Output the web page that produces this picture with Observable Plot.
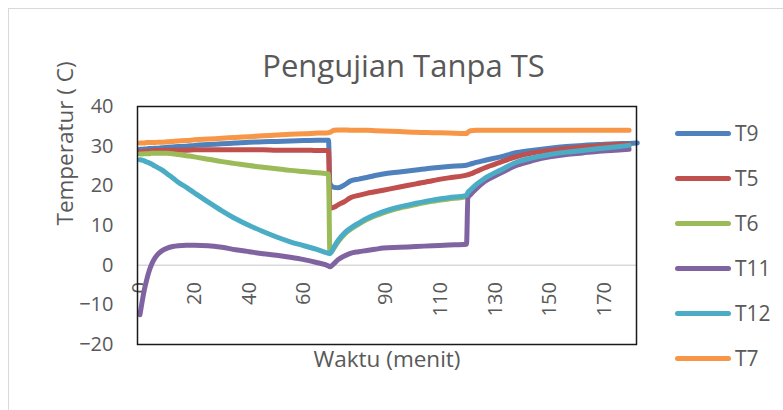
<!DOCTYPE html>
<html><head><meta charset="utf-8">
<script src="https://cdn.jsdelivr.net/npm/d3@7"></script>
<script src="https://cdn.jsdelivr.net/npm/@observablehq/plot@0.6"></script>
<style>
body{margin:0;background:#fff;overflow:hidden;font-family:"Open Sans",sans-serif;}
#wrap{position:relative;width:783px;height:410px;overflow:hidden;background:#fff;}
#border{position:absolute;left:8px;top:8px;width:820px;height:440px;border:1.5px solid #d9d9d9;box-sizing:border-box;}
#chart{position:absolute;left:0;top:0;}
#legend{position:absolute;left:675px;top:0;}
.item{position:absolute;left:0;height:24px;display:flex;align-items:center;white-space:nowrap;}
.swatch{width:56px;height:5px;border-radius:3px;margin-right:4px;}
.lab{font-size:21px;line-height:24px;color:#595959;}
</style></head>
<body><div id="wrap"><div id="border"></div><div id="chart"></div><div id="legend"></div></div>
<script>
const title = "Pengujian Tanpa TS";
const xTitle = "Waktu (menit)";
const yTitle = "Temperatur ( C)";
const seriesNames = ["T9", "T5", "T6", "T11", "T12", "T7"];
const seriesColors = ["#4F81BD", "#C0504D", "#9BBB59", "#8064A2", "#4BACC6", "#F79646"];
const xTicks = [0, 20, 40, 60, 90, 110, 130, 150, 170];
const yTicks = [-20, -10, 0, 10, 20, 30, 40];

const minutes = [0, 0.8, 1.6, 2.5, 3.3, 4.2, 5.2, 6.5, 8, 10, 12, 14, 17, 20,
  25, 30, 35, 40, 45, 50, 55, 60, 65, 69, 69.5,
  71, 72.5, 75, 77, 80, 83, 86, 89, 95, 101, 107, 113, 119.5, 120, 121, 123, 126,
  132, 138, 144, 150, 156, 162, 168, 174, 179, 182];

const T9 = [29.2, 29.2, 29.3, 29.3, 29.4, 29.4, 29.5, 29.5, 29.6, 29.7, 29.8, 29.9, 30.0, 30.2,
  30.4, 30.6, 30.8, 31.0, 31.1, 31.2, 31.3, 31.4, 31.5, 31.5, 20.5,
  19.6, 19.5, 20.3, 21.2, 21.7, 22.1, 22.6, 23.0, 23.5, 24.0, 24.5, 24.9, 25.2, 25.3, 25.5, 25.9, 26.4,
  27.3, 28.4, 29.0, 29.5, 29.9, 30.2, 30.4, 30.6, 30.7, 30.8];
const T5 = [28.6, 28.6, 28.7, 28.7, 28.8, 28.8, 28.9, 28.9, 28.9, 29.0, 29.0, 29.0, 29.0, 29.1,
  29.1, 29.1, 29.1, 29.1, 29.1, 29.0, 29.0, 29.0, 28.9, 28.9, 14.3,
  14.6, 15.2, 16.1, 17.0, 17.6, 18.1, 18.5, 18.9, 19.7, 20.5, 21.3, 22.0, 22.7, 22.8, 23.0, 23.6, 24.5,
  26.0, 27.4, 28.3, 28.9, 29.4, 29.8, 30.1, 30.4, 30.5, null];
const T6 = [28.0, 28.0, 28.1, 28.1, 28.1, 28.2, 28.2, 28.2, 28.2, 28.2, 28.1, 27.9, 27.6, 27.3,
  26.7, 26.1, 25.6, 25.1, 24.7, 24.3, 23.9, 23.6, 23.3, 23.0, 3.0,
  4.3, 5.9, 7.9, 9.0, 10.3, 11.5, 12.4, 13.2, 14.4, 15.3, 16.1, 16.7, 17.3, 17.9, 18.6, 20.0, 21.5,
  23.7, 25.7, 26.8, 27.6, 28.2, 28.6, 29.1, 29.5, 29.9, null];
const T11 = [-12.5, -9.2, -6.2, -3.6, -1.6, 0.1, 1.5, 2.7, 3.6, 4.3, 4.7, 4.9, 5.0, 5.0,
  4.9, 4.5, 3.9, 3.4, 2.9, 2.5, 2.0, 1.4, 0.6, -0.2, -0.4,
  0.4, 1.4, 2.4, 3.0, 3.4, 3.7, 4.0, 4.3, 4.5, 4.7, 4.9, 5.1, 5.3, 17.0, 17.8, 19.2, 21.0,
  23.2, 25.2, 26.4, 27.3, 27.9, 28.3, 28.7, 29.0, 29.2, null];
const T12 = [26.6, 26.5, 26.3, 26.0, 25.8, 25.5, 25.1, 24.6, 24.0, 23.0, 22.0, 20.9, 19.6, 18.2,
  15.9, 13.7, 11.7, 10.0, 8.5, 7.1, 5.9, 4.9, 3.9, 3.0, 2.9,
  4.6, 6.2, 8.2, 9.3, 10.6, 11.8, 12.7, 13.5, 14.7, 15.6, 16.4, 17.0, 17.6, 18.3, 19.0, 20.3, 21.8,
  24.0, 26.0, 27.1, 27.9, 28.5, 28.9, 29.4, 29.8, 30.2, null];
const T7 = [30.8, 30.8, 30.8, 30.9, 30.9, 30.9, 30.9, 31.0, 31.0, 31.1, 31.2, 31.3, 31.4, 31.6,
  31.8, 32.0, 32.2, 32.4, 32.6, 32.8, 33.0, 33.1, 33.3, 33.4, 33.5,
  34.0, 34.1, 34.1, 34.0, 34.0, 34.0, 33.9, 33.8, 33.7, 33.5, 33.4, 33.3, 33.2, 33.5, 33.9, 34.0, 34.0,
  34.0, 34.0, 34.0, 34.0, 34.0, 34.0, 34.0, 34.0, 34.0, null];

const seriesValues = [T9, T5, T6, T11, T12, T7];

const lineMarks = seriesNames.map((name, i) =>
  Plot.line(minutes.map((t, j) => ({t, v: seriesValues[i][j], series: name})), {
    x: "t", y: "v", stroke: seriesColors[i], strokeWidth: 5, curve: "monotone-x",
    strokeLinejoin: "round", strokeLinecap: "round"
  })
);

const chart = Plot.plot({
  width: 783,
  height: 410,
  marginLeft: 137,
  marginRight: 147,
  marginTop: 106,
  marginBottom: 66,
  style: {fontFamily: "'Open Sans', sans-serif", background: "transparent"},
  x: {domain: [-0.9, 181.7], axis: null},
  y: {domain: [-20, 40]},
  marks: [
    Plot.ruleY([0], {stroke: "#d9d9d9", strokeWidth: 1.5}),
    Plot.axisY({ticks: yTicks, tickSize: 0, tickPadding: 24, fontSize: 20, color: "#595959", label: null}),
    Plot.text(xTicks, {x: d => d, y: 0, text: d => String(d), rotate: -90, textAnchor: "end", dy: 17, fontSize: 20, fill: "#595959"}),
    ...lineMarks,
    Plot.frame({stroke: "#1a1a1a", strokeWidth: 1.5}),
    Plot.text([yTitle], {frameAnchor: "left", rotate: -90, dx: -72, fontSize: 22.5, fill: "#595959"}),
    Plot.text([xTitle], {frameAnchor: "bottom", dy: 22, fontSize: 22.5, fill: "#595959"}),
    Plot.text([title], {frameAnchor: "top", dx: 16.5, dy: -52, fontSize: 31, fill: "#595959"})
  ]
});
document.getElementById("chart").appendChild(chart);

const legend = document.getElementById("legend");
seriesNames.forEach((name, i) => {
  const item = document.createElement("div");
  item.className = "item";
  item.style.top = (133 + 45 * i - 12) + "px";
  const sw = document.createElement("div");
  sw.className = "swatch";
  sw.style.background = seriesColors[i];
  const lab = document.createElement("span");
  lab.className = "lab";
  lab.textContent = name;
  item.appendChild(sw);
  item.appendChild(lab);
  legend.appendChild(item);
});
</script>
</body></html>
